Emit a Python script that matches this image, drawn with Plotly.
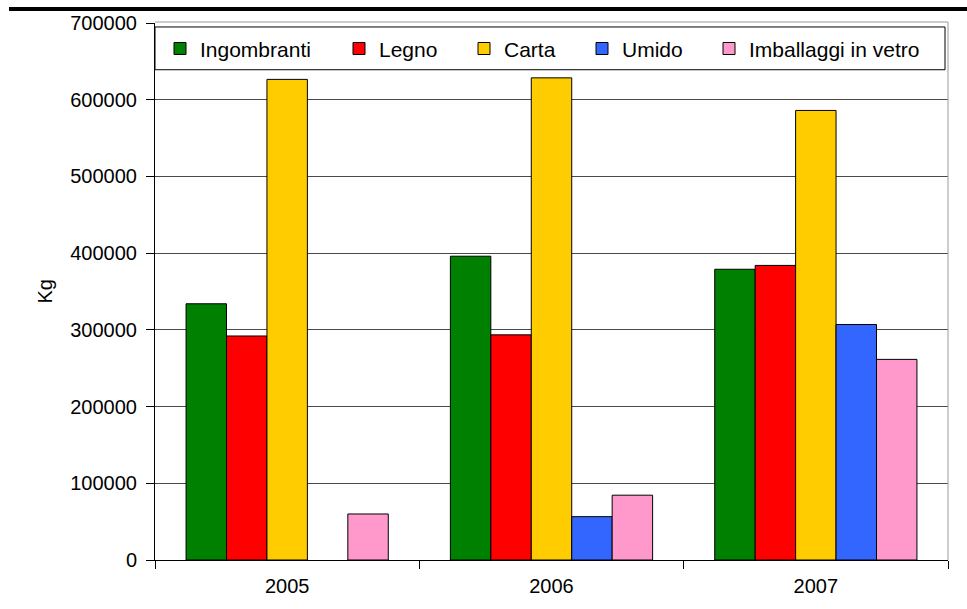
import plotly.graph_objects as go

# Raccolta differenziata per anno (kg)
years = ["2005", "2006", "2007"]
ingombranti = [334000, 396000, 379000]
legno = [292000, 293500, 384000]
carta = [626500, 628500, 586000]
umido = [None, 56500, 307000]
vetro = [60000, 84500, 261500]

series_names = ["Ingombranti", "Legno", "Carta", "Umido", "Imballaggi in vetro"]
series_values = [ingombranti, legno, carta, umido, vetro]
series_colors = ["#008000", "#FF0000", "#FFCC00", "#3366FF", "#FF99CC"]

W, H = 967, 609
ML, MR, MT, MB = 155, 19, 23, 46
PW, PH = W - ML - MR, H - MT - MB


def px_x(x):
    return (x - ML) / PW


def px_y(y):
    return (H - MB - y) / PH


FONT = "Liberation Sans, Arial, sans-serif"

fig = go.Figure()
legend_ids = ["legend", "legend2", "legend3", "legend4", "legend5"]
swatch_left = [179, 358, 483, 601, 728]

for name, vals, col, lid in zip(series_names, series_values, series_colors, legend_ids):
    fig.add_trace(go.Bar(
        x=years, y=vals, name=name,
        marker=dict(color=col, line=dict(color="#000000", width=1)),
        legend=lid,
    ))

legend_layout = {}
for lid, sx in zip(legend_ids, swatch_left):
    legend_layout[lid] = dict(
        x=px_x(sx - 19), y=px_y(49), xanchor="left", yanchor="middle",
        orientation="h", bgcolor="rgba(0,0,0,0)", borderwidth=0,
        font=dict(family=FONT, size=21, color="#000000"),
        itemclick=False,
    )

fig.update_layout(
    width=W, height=H,
    margin=dict(l=ML, r=MR, t=MT, b=MB, pad=0),
    paper_bgcolor="white", plot_bgcolor="white",
    barmode="group", bargap=0.235, bargroupgap=0,
    font=dict(family=FONT, size=20, color="#000000"),
    xaxis=dict(
        type="category", tickson="boundaries", ticks="outside", ticklen=8,
        tickcolor="#000000", showline=True, linecolor="#000000", linewidth=1,
        showgrid=False, ticklabelstandoff=8,
        tickfont=dict(family=FONT, size=20, color="#000000"),
    ),
    yaxis=dict(
        range=[0, 700000], dtick=100000, tickformat="d",
        ticks="outside", ticklen=8, tickcolor="#000000",
        showline=True, linecolor="#000000", linewidth=1,
        showgrid=True, gridcolor="#4a4a4a", gridwidth=1,
        zeroline=False, ticklabelstandoff=5,
        tickfont=dict(family=FONT, size=20, color="#000000"),
    ),
    showlegend=True,
    **legend_layout,
)

# plot-area frame (top and right edges)
fig.add_shape(type="line", xref="paper", yref="paper",
              x0=0, x1=1, y0=px_y(22), y1=px_y(22),
              line=dict(color="#9a9a9a", width=1))
fig.add_shape(type="line", xref="paper", yref="paper",
              x0=px_x(948), x1=px_x(948), y0=0, y1=px_y(22),
              line=dict(color="#9a9a9a", width=1))

# legend box
fig.add_shape(type="rect", xref="paper", yref="paper",
              x0=0, x1=px_x(945), y0=px_y(70), y1=px_y(27),
              line=dict(color="#000000", width=1), fillcolor="white", layer="below")

# heavy rule across the top
fig.add_shape(type="line", xref="paper", yref="paper",
              x0=px_x(9), x1=px_x(967), y0=px_y(9), y1=px_y(9),
              line=dict(color="#000000", width=4))

# y-axis title
fig.add_annotation(text="Kg", xref="paper", yref="paper",
                   x=px_x(44), y=px_y(293), xanchor="center", yanchor="middle",
                   textangle=-90, showarrow=False,
                   font=dict(family=FONT, size=20, color="#000000"))

fig.write_html("out.html")
